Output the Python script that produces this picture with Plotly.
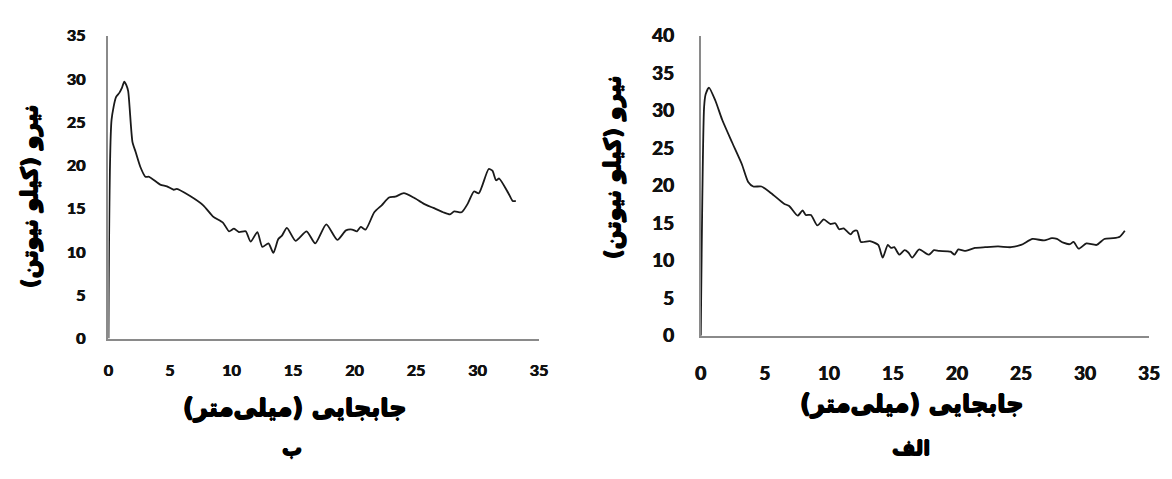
import plotly.graph_objects as go

# Force–displacement curves (displacement in mm, force in kN)
# Panel "ب" (left)
disp_b = [0, 0.25, 0.61, 0.88, 1.1, 1.28, 1.45, 1.6, 1.95, 2.2, 2.6, 3.0, 3.3, 4.2, 4.75,
          5.3, 5.55, 6.6, 7.7, 8.5, 9.3, 9.8, 10.2, 10.6, 11.15, 11.55, 12.1, 12.5, 13.0,
          13.4, 13.8, 14.1, 14.5, 15.2, 16.1, 16.8, 17.7, 18.6, 19.3, 19.8, 20.2, 20.5,
          20.9, 21.6, 22.2, 22.8, 23.3, 24.0, 24.8, 25.6, 26.4, 27.2, 27.75, 28.1, 28.7,
          29.2, 29.7, 30.1, 30.9, 31.2, 31.5, 31.75, 32.5, 32.85, 33.1]
force_b = [0, 25.3, 27.9, 28.4, 29.0, 29.7, 29.3, 28.6, 22.7, 21.6, 19.8, 18.7, 18.7, 17.8, 17.6,
           17.2, 17.3, 16.5, 15.4, 14.1, 13.4, 12.4, 12.7, 12.3, 12.4, 11.2, 12.3, 10.6, 11.0,
           9.9, 11.5, 11.9, 12.8, 11.3, 12.4, 11.0, 13.2, 11.4, 12.5, 12.6, 12.4, 12.9,
           12.6, 14.6, 15.4, 16.3, 16.4, 16.8, 16.3, 15.6, 15.1, 14.6, 14.35, 14.7, 14.6,
           15.6, 17.0, 16.8, 19.6, 19.4, 18.3, 18.5, 16.8, 15.9, 15.9]

# Panel "الف" (right)
disp_alf = [0, 0.26, 0.38, 0.64, 1.15, 1.67, 2.44, 3.2, 3.7, 4.1, 4.74, 5.5, 6.5, 6.9, 7.56,
            7.95, 8.2, 8.6, 9.1, 9.6, 10.1, 10.5, 10.8, 11.15, 11.7, 11.9, 12.2, 12.5, 13.2,
            13.85, 14.2, 14.6, 14.85, 15.1, 15.5, 15.9, 16.2, 16.5, 17.05, 17.8, 18.2, 18.6,
            19.5, 19.8, 20.1, 20.6, 21.4, 22.2, 23.2, 24.2, 25.0, 25.9, 26.8, 27.4, 27.8,
            28.3, 28.8, 29.1, 29.5, 30.1, 30.9, 31.5, 32.2, 32.7, 33.1]
force_alf = [0, 30.5, 32.2, 33.1, 31.3, 28.8, 25.8, 22.9, 20.5, 19.9, 19.9, 19.0, 17.6, 17.3, 16.0,
             16.7, 16.1, 16.1, 14.7, 15.5, 14.9, 15.0, 14.2, 14.3, 13.5, 13.9, 14.0, 12.5, 12.6,
             12.1, 10.4, 12.1, 11.7, 11.8, 10.8, 11.4, 11.1, 10.4, 11.5, 10.8, 11.4, 11.3,
             11.2, 10.8, 11.5, 11.3, 11.7, 11.8, 11.9, 11.8, 12.1, 12.9, 12.7, 13.0, 12.9,
             12.4, 12.2, 12.5, 11.6, 12.3, 12.1, 12.9, 13.0, 13.2, 14.0]

x_ticks = [0, 5, 10, 15, 20, 25, 30, 35]
y_ticks_b = [0, 5, 10, 15, 20, 25, 30, 35]
y_ticks_alf = [0, 5, 10, 15, 20, 25, 30, 35, 40]

x_title = "جابجایی (میلی‌متر)"
y_title = "نیرو (کیلو نیوتن)"
caption_b = "ب"
caption_alf = "الف"

LINE = dict(color="#1a1a1a", width=1.8, shape="spline", smoothing=0.6)
AXIS_LINE = "#8a8a8a"
TICK_FONT = "Lato"
FA_FONT = "DejaVu Sans"
# a thin outline in the text colour makes the labels heavier
HEAVY = "0.7px 0 0 black, -0.7px 0 0 black, 0 0.7px 0 black, 0 -0.7px 0 black"
TICK_HEAVY = "0.4px 0 0 #111, -0.4px 0 0 #111"

fig = go.Figure()
fig.add_trace(go.Scatter(x=disp_b, y=force_b, mode="lines", line=LINE,
                         xaxis="x", yaxis="y", showlegend=False, hoverinfo="skip"))
fig.add_trace(go.Scatter(x=disp_alf, y=force_alf, mode="lines", line=LINE,
                         xaxis="x2", yaxis="y2", showlegend=False, hoverinfo="skip"))


def axis(domain, rng, ticks, size, standoff, anchor):
    return dict(domain=domain, range=rng, tickvals=ticks, ticktext=[str(t) for t in ticks],
                showline=True, linecolor=AXIS_LINE, linewidth=1.5, showgrid=False,
                zeroline=False, ticks="", ticklabelstandoff=standoff, anchor=anchor,
                tickfont=dict(family=TICK_FONT, size=size, color="#111", weight="bold",
                              shadow=TICK_HEAVY),
                fixedrange=True)


W, H = 1172, 479
fig.update_layout(
    width=W, height=H,
    margin=dict(l=0, r=0, t=0, b=0),
    paper_bgcolor="white", plot_bgcolor="white",
    xaxis=axis([104 / W, 541 / W], [0, 35], x_ticks, 16, 17, "y"),
    yaxis=axis([(H - 343) / H, (H - 25) / H], [0, 35], y_ticks_b, 16, 18, "x"),
    xaxis2=axis([705 / W, 1160 / W], [0, 35], x_ticks, 19, 20, "y2"),
    yaxis2=axis([(H - 340) / H, (H - 25) / H], [0, 40], y_ticks_alf, 19, 21, "x2"),
)

fa_bold = dict(family=FA_FONT, color="black", weight="bold", shadow=HEAVY)
notes = [
    dict(x=293 / W, y=(H - 416) / H, text=x_title, font=dict(size=24, **fa_bold)),
    dict(x=919 / W, y=(H - 412) / H, text=x_title, font=dict(size=24, **fa_bold)),
    dict(x=290 / W, y=(H - 458) / H, text=caption_b, font=dict(size=20, **fa_bold)),
    dict(x=918 / W, y=(H - 458) / H, text=caption_alf, font=dict(size=20, **fa_bold)),
    dict(x=24 / W, y=(H - 194) / H, text=y_title, textangle=-90, font=dict(size=22, **fa_bold)),
    dict(x=616 / W, y=(H - 163) / H, text=y_title, textangle=-90, font=dict(size=22, **fa_bold)),
]
for n in notes:
    fig.add_annotation(xref="paper", yref="paper", showarrow=False,
                       xanchor="center", yanchor="middle", **n)

fig.write_html("out.html", config={"displayModeBar": False})
